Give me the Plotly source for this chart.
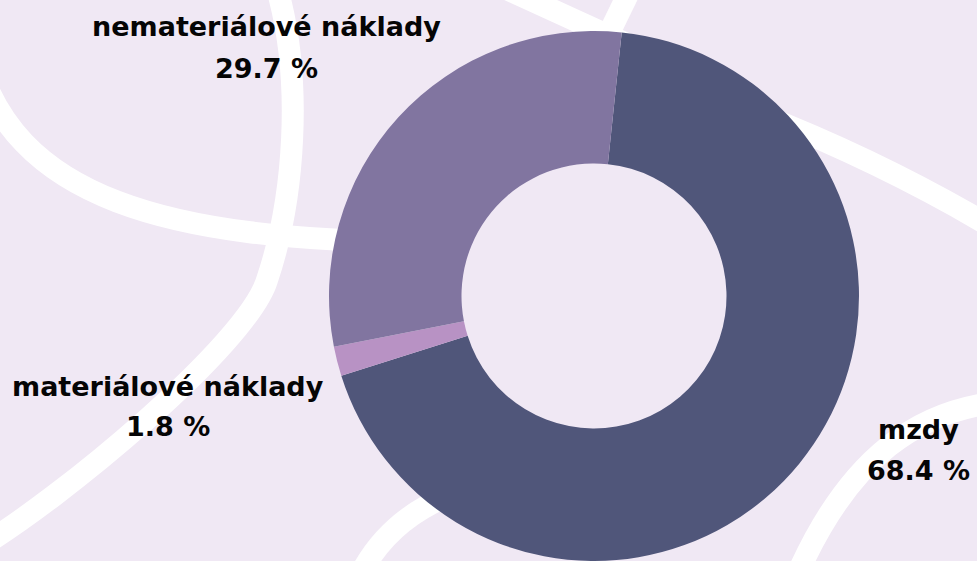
import plotly.graph_objects as go

# ---- data ----
categories = ["mzdy", "materiálové náklady", "nemateriálové náklady"]
shares = [68.4, 1.8, 29.7]
slice_colors = ["#50567A", "#B892C4", "#8175A0"]

W, H = 977, 561
BG = "#F0E8F4"

# label anchor positions in pixels: (center x, baseline of name, baseline of percent)
label_pos = [(918, 439, 480), (168, 396, 436), (266, 36, 78)]
FS = 27


def px(x, y):
    return f"{x / W:.5f},{1 - y / H:.5f}"


def path(start, segs):
    s = "M " + px(*start)
    for cmd, pts in segs:
        s += " " + cmd + " " + " ".join(px(*p) for p in pts)
    return s


curves = [
    path((276, -15), [("C", [(304, 80), (294, 200), (267, 280)]),
                      ("C", [(247, 345), (60, 500), (-25, 550)])]),
    path((-25, 50), [("C", [(10, 200), (170, 240), (420, 242)])]),
    path((500, -14), [("L", [(640, 50)])]),
    path((632, -14), [("L", [(596, 60)])]),
    path((700, 92), [("Q", [(860, 148), (1000, 232)])]),
    path((1000, 402), [("C", [(920, 410), (850, 455), (797, 575)])]),
    path((360, 575), [("Q", [(388, 520), (450, 495)])]),
]

shapes = [
    dict(type="path", path=c, xref="paper", yref="paper",
         line=dict(color="white", width=22), layer="below")
    for c in curves
]

fig = go.Figure(
    go.Pie(
        labels=categories,
        values=shares,
        hole=0.5,
        sort=False,
        direction="clockwise",
        rotation=6,
        marker=dict(colors=slice_colors, line=dict(width=0)),
        textinfo="none",
        hoverinfo="label+percent",
        showlegend=False,
        domain=dict(x=[328 / W, 860 / W], y=[0, 1 - 31 / H]),
    )
)

annotations = []
for cat, val, (cx, b1, b2) in zip(categories, shares, label_pos):
    for txt, base in ((cat, b1), (f"{val:.1f} %", b2)):
        annotations.append(dict(
            text=txt, x=cx / W, y=1 - (base - 0.36 * FS) / H,
            xref="paper", yref="paper", xanchor="center", yanchor="middle",
            showarrow=False,
            font=dict(family="DejaVu Sans", size=FS, color="#050505", weight="bold"),
        ))

fig.update_layout(
    width=W, height=H,
    margin=dict(l=0, r=0, t=0, b=0, pad=0),
    paper_bgcolor=BG,
    plot_bgcolor=BG,
    shapes=shapes,
    annotations=annotations,
)

fig.write_html(
    "out.html",
    config={"displayModeBar": False},
    post_script="document.body.style.margin='0';document.body.style.overflow='hidden';",
)
